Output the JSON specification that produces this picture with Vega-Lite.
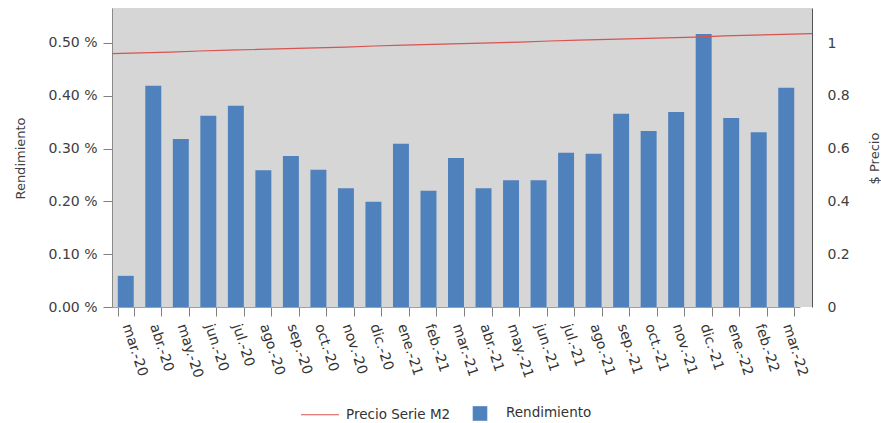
{
  "$schema": "https://vega.github.io/schema/vega-lite/v6.json",
  "autosize": "none",
  "width": 700,
  "height": 299,
  "padding": {"left": 112, "top": 8, "right": 69, "bottom": 116},
  "background": "white",
  "config": {
    "view": {"fill": "#d6d6d6", "stroke": null},
    "font": "DejaVu Sans",
    "axis": {"labelFont": "DejaVu Sans", "titleFont": "DejaVu Sans", "labelColor": "#404040", "titleColor": "#404040", "titleFontWeight": "normal", "labelFontSize": 13, "titleFontSize": 13, "grid": false},
    "legend": {"labelFont": "DejaVu Sans", "labelFontSize": 13.5, "labelColor": "#333333"}
  },
  "data": {"values": [
    {"mes": "mar.-20", "rendimiento": 0.059, "precio": 0.960},
    {"mes": "abr.-20", "rendimiento": 0.419, "precio": 0.963},
    {"mes": "may.-20", "rendimiento": 0.318, "precio": 0.966},
    {"mes": "jun.-20", "rendimiento": 0.362, "precio": 0.970},
    {"mes": "jul.-20", "rendimiento": 0.381, "precio": 0.973},
    {"mes": "ago.-20", "rendimiento": 0.259, "precio": 0.976},
    {"mes": "sep.-20", "rendimiento": 0.286, "precio": 0.979},
    {"mes": "oct.-20", "rendimiento": 0.260, "precio": 0.982},
    {"mes": "nov.-20", "rendimiento": 0.225, "precio": 0.985},
    {"mes": "dic.-20", "rendimiento": 0.199, "precio": 0.989},
    {"mes": "ene.-21", "rendimiento": 0.309, "precio": 0.992},
    {"mes": "feb.-21", "rendimiento": 0.220, "precio": 0.995},
    {"mes": "mar.-21", "rendimiento": 0.282, "precio": 0.998},
    {"mes": "abr.-21", "rendimiento": 0.225, "precio": 1.001},
    {"mes": "may.-21", "rendimiento": 0.240, "precio": 1.004},
    {"mes": "jun.-21", "rendimiento": 0.240, "precio": 1.008},
    {"mes": "jul.-21", "rendimiento": 0.292, "precio": 1.011},
    {"mes": "ago.-21", "rendimiento": 0.290, "precio": 1.014},
    {"mes": "sep.-21", "rendimiento": 0.366, "precio": 1.017},
    {"mes": "oct.-21", "rendimiento": 0.333, "precio": 1.020},
    {"mes": "nov.-21", "rendimiento": 0.369, "precio": 1.023},
    {"mes": "dic.-21", "rendimiento": 0.517, "precio": 1.027},
    {"mes": "ene.-22", "rendimiento": 0.358, "precio": 1.030},
    {"mes": "feb.-22", "rendimiento": 0.331, "precio": 1.033},
    {"mes": "mar.-22", "rendimiento": 0.415, "precio": 1.036}
  ]},
  "layer": [
    {
      "mark": {"type": "bar"},
      "encoding": {
        "x": {
          "field": "mes", "type": "ordinal", "sort": null,
          "scale": {"paddingInner": 0.42, "paddingOuter": 0.21, "range": [0, 688]},
          "axis": {"title": null, "labelAngle": 72, "labelAlign": "left", "labelBaseline": "middle", "labelPadding": 8, "labelColor": "#333333", "labelFontSize": 14, "tickBand": "extent", "tickSize": 9, "tickColor": "#808080", "domainColor": "#a0a0a0", "labelOverlap": false}
        },
        "y": {
          "field": "rendimiento", "type": "quantitative",
          "scale": {"domain": [0, 0.566], "nice": false, "zero": true},
          "axis": {"title": "Rendimiento", "orient": "left", "values": [0, 0.1, 0.2, 0.3, 0.4, 0.5], "labelExpr": "format(datum.value, '.2f') + ' %'", "labelFontSize": 14, "tickSize": 9, "tickColor": "#808080", "labelPadding": 6, "domainColor": "#8a8a8a", "titleAngle": 270, "titleX": -92, "titleBaseline": "middle", "titleY": 150, "titleFontSize": 13}
        },
        "color": {
          "datum": "Rendimiento",
          "scale": {"domain": ["Precio Serie M2", "Rendimiento"], "range": ["#d9534f", "#4f81bd"]},
          "legend": {
            "orient": "none", "legendX": 188, "legendY": 385, "direction": "horizontal", "title": null,
            "symbolSize": 1444, "labelOffset": 6, "columnPadding": 9,
            "encode": {"symbols": {"update": {
              "shape": {"signal": "datum.value === 'Rendimiento' ? 'square' : 'stroke'"},
              "size": {"signal": "datum.value === 'Rendimiento' ? 180 : 1444"},
              "fill": {"signal": "datum.value === 'Rendimiento' ? '#4f81bd' : 'transparent'"},
              "stroke": {"signal": "datum.value === 'Rendimiento' ? '#4f81bd' : '#d9534f'"},
              "strokeWidth": {"value": 1.2},
              "opacity": {"value": 1}
            }}}
          }
        }
      }
    },
    {
      "mark": {"type": "line", "strokeWidth": 1.2},
      "encoding": {
        "x": {"field": "mes", "type": "ordinal", "sort": null, "scale": {"type": "point", "padding": 0}, "axis": null},
        "y": {
          "field": "precio", "type": "quantitative",
          "scale": {"domain": [0, 1.133], "nice": false, "zero": true},
          "axis": {"title": "$ Precio", "orient": "right", "values": [0, 0.2, 0.4, 0.6, 0.8, 1], "format": "~g", "labelFontSize": 14, "tickSize": 0, "labelPadding": 15, "domainColor": "#555555", "titleAngle": 270, "titleX": 62, "titleY": 150, "titleBaseline": "middle", "titleFontSize": 13}
        },
        "color": {"datum": "Precio Serie M2"}
      }
    }
  ],
  "resolve": {"scale": {"x": "independent", "y": "independent"}}
}
